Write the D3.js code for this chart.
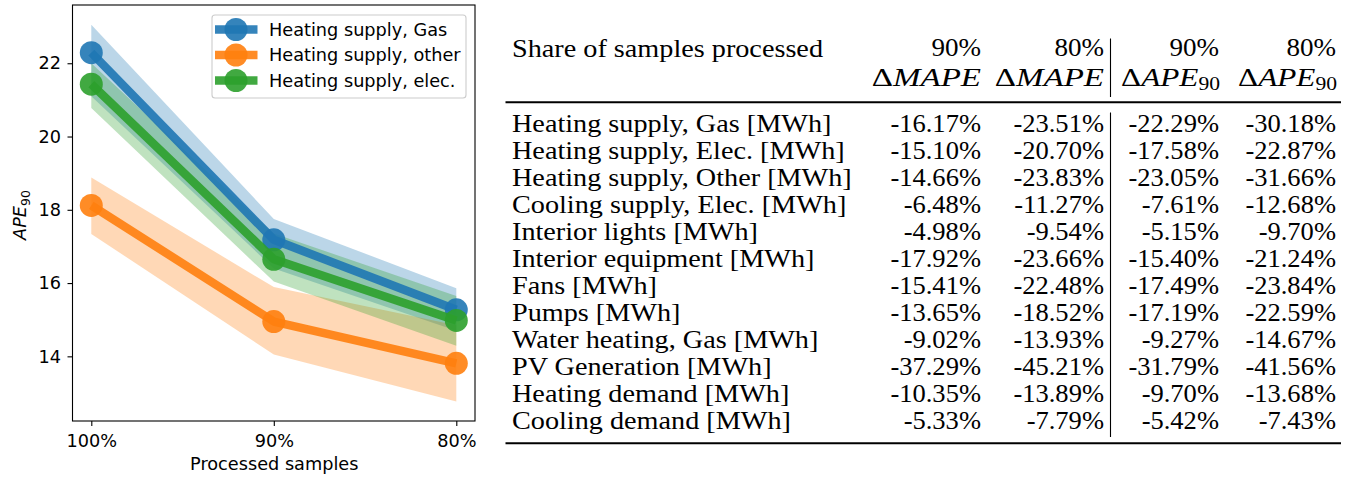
<!DOCTYPE html>
<html>
<head>
<meta charset="utf-8">
<script src="https://cdn.jsdelivr.net/npm/d3@7"></script>
<style>
  html, body { margin: 0; padding: 0; background: #fff; }
  svg { display: block; }
</style>
</head>
<body>
<svg id="chart" width="1358" height="479"></svg>
<script>
// ---------------- DATA ----------------
const categories = ["100%", "90%", "80%"];
const seriesNames = ["Heating supply, Gas", "Heating supply, other", "Heating supply, elec."];
const gasMean  = [22.29, 17.18, 15.27];
const gasLow   = [21.10, 16.40, 14.70];
const gasHigh  = [23.05, 17.75, 15.86];
const otherMean = [18.12, 14.95, 13.81];
const otherLow  = [17.34, 14.05, 12.77];
const otherHigh = [18.88, 15.89, 14.85];
const elecMean = [21.43, 16.65, 14.98];
const elecLow  = [20.78, 16.04, 14.29];
const elecHigh = [22.00, 17.35, 15.65];
const yTicks = [14, 16, 18, 20, 22];

const rowLabels = [
  "Heating supply, Gas [MWh]", "Heating supply, Elec. [MWh]", "Heating supply, Other [MWh]",
  "Cooling supply, Elec. [MWh]", "Interior lights [MWh]", "Interior equipment [MWh]",
  "Fans [MWh]", "Pumps [MWh]", "Water heating, Gas [MWh]", "PV Generation [MWh]",
  "Heating demand [MWh]", "Cooling demand [MWh]"
];
const mape90  = [-16.17, -15.10, -14.66, -6.48, -4.98, -17.92, -15.41, -13.65, -9.02, -37.29, -10.35, -5.33];
const mape80  = [-23.51, -20.70, -23.83, -11.27, -9.54, -23.66, -22.48, -18.52, -13.93, -45.21, -13.89, -7.79];
const ape90_90 = [-22.29, -17.58, -23.05, -7.61, -5.15, -15.40, -17.49, -17.19, -9.27, -31.79, -9.70, -5.42];
const ape90_80 = [-30.18, -22.87, -31.66, -12.68, -9.70, -21.24, -23.84, -22.59, -14.67, -41.56, -13.68, -7.43];
const headerTitle = "Share of samples processed";
const headerShares = ["90%", "80%", "90%", "80%"];
const headerMetrics = [["MAPE", ""], ["MAPE", ""], ["APE", "90"], ["APE", "90"]];

// ---------------- PLOT ----------------
const svg = d3.select("#chart");
const colors = ["#1f77b4", "#ff7f0e", "#2ca02c"];
const series = [
  {name: seriesNames[0], mean: gasMean, low: gasLow, high: gasHigh, color: colors[0]},
  {name: seriesNames[1], mean: otherMean, low: otherLow, high: otherHigh, color: colors[1]},
  {name: seriesNames[2], mean: elecMean, low: elecLow, high: elecHigh, color: colors[2]}
];

const plot = {left: 72.5, right: 475, top: 5, bottom: 421};
const x = d3.scalePoint().domain(categories).range([91.3, 456.3]);
const y = d3.scaleLinear().domain([12.235, 23.59]).range([plot.bottom, plot.top]);
const fs = 17.7;

const g = svg.append("g");
const area = d3.area().x((d, i) => x(categories[i])).y0(d => y(d[0])).y1(d => y(d[1]));
const line = d3.line().x((d, i) => x(categories[i])).y(d => y(d));

// bands first
series.forEach(s => {
  g.append("path")
    .datum(s.low.map((v, i) => [v, s.high[i]]))
    .attr("d", area)
    .attr("fill", s.color)
    .attr("fill-opacity", 0.3);
});
series.forEach(s => {
  const sg = g.append("g").attr("opacity", 0.9);
  sg.append("path").datum(s.mean).attr("d", line)
    .attr("fill", "none").attr("stroke", s.color).attr("stroke-width", 8.5)
    .attr("stroke-linejoin", "round");
  s.mean.forEach((v, i) => {
    g.append("circle").attr("cx", x(categories[i])).attr("cy", y(v)).attr("r", 11.5)
      .attr("fill", s.color).attr("fill-opacity", 0.9);
  });
});

// frame
g.append("rect").attr("x", plot.left).attr("y", plot.top)
  .attr("width", plot.right - plot.left).attr("height", plot.bottom - plot.top)
  .attr("fill", "none").attr("stroke", "#000").attr("stroke-width", 1.1);

const tickFont = "'DejaVu Sans', sans-serif";
const yAxis = g.append("g").attr("transform", `translate(${plot.left},0)`)
  .call(d3.axisLeft(y).tickValues(yTicks).tickSize(5).tickPadding(6.5).tickFormat(d3.format("d")));
const xAxis = g.append("g").attr("transform", `translate(0,${plot.bottom})`)
  .call(d3.axisBottom(x).tickSize(5).tickPadding(8.5));
[yAxis, xAxis].forEach(a => {
  a.attr("font-family", tickFont).attr("font-size", fs);
  a.select(".domain").remove();
  a.selectAll("line").attr("stroke", "#000").attr("stroke-width", 1.1);
  a.selectAll("text").attr("font-family", tickFont).attr("font-size", fs).attr("fill", "#000");
});

g.append("text").attr("x", (plot.left + plot.right) / 2 + 0.5).attr("y", 470)
  .attr("text-anchor", "middle").attr("font-family", tickFont).attr("font-size", fs)
  .text("Processed samples");

const yl = g.append("text").attr("transform", "translate(26,215) rotate(-90)")
  .attr("text-anchor", "middle").attr("font-family", tickFont).attr("font-size", fs);
yl.append("tspan").attr("font-style", "italic").text("APE");
yl.append("tspan").attr("font-size", 12.5).attr("dy", 4).text("90");

// legend
const leg = g.append("g");
leg.append("rect").attr("x", 212).attr("y", 15).attr("width", 254).attr("height", 83)
  .attr("rx", 3).attr("fill", "#fff").attr("fill-opacity", 0.8)
  .attr("stroke", "#cccccc").attr("stroke-width", 1.1);
const legY = d3.scalePoint().domain(seriesNames).range([29.5, 80.5]);
series.forEach(s => {
  const ly = legY(s.name);
  leg.append("line").attr("x1", 215).attr("x2", 257.5).attr("y1", ly).attr("y2", ly)
    .attr("stroke", s.color).attr("stroke-width", 8.5).attr("stroke-opacity", 0.9);
  leg.append("circle").attr("cx", 236).attr("cy", ly).attr("r", 11.5)
    .attr("fill", s.color).attr("fill-opacity", 0.9);
  leg.append("text").attr("x", 269).attr("y", ly + 6.4)
    .attr("font-family", tickFont).attr("font-size", fs).text(s.name);
});

// ---------------- TABLE ----------------
const tFont = "'Liberation Serif', 'Times New Roman', serif";
const tSize = 26;
const T = svg.append("g").attr("font-family", tFont).attr("font-size", tSize).attr("fill", "#000");
const colRight = d3.scaleOrdinal().domain([0, 1, 2, 3]).range([981, 1104, 1219, 1336]);
const rowY = d3.scaleLinear().domain([0, 1]).range([131.5, 131.5 + 27.06]);
const leftX = 512;
const sepX = 1110.5;

function stretch(sel, factor, rightEdge) {
  sel.each(function () {
    const w = this.getComputedTextLength();
    const tw = w * factor;
    this.setAttribute("textLength", tw);
    this.setAttribute("lengthAdjust", "spacingAndGlyphs");
    if (rightEdge !== undefined) this.setAttribute("x", rightEdge - tw);
  });
}

// header
stretch(T.append("text").attr("x", leftX).attr("y", 56.5).text(headerTitle), 1.085);
headerShares.forEach((h, i) => {
  stretch(T.append("text").attr("y", 56).text(h), 1.04, colRight(i));
});
headerMetrics.forEach((m, i) => {
  const t = T.append("text").attr("y", 86);
  t.append("tspan").text("Δ");
  t.append("tspan").attr("font-style", "italic").text(m[0]);
  if (m[1]) t.append("tspan").attr("font-size", 18).attr("dy", 4).text(m[1]);
  stretch(t, m[1] ? 1.2 : 1.27, colRight(i) + (m[1] ? 1 : 0));
});

// rules
T.append("line").attr("x1", 505.5).attr("x2", 1341).attr("y1", 102.3).attr("y2", 102.3)
  .attr("stroke", "#000").attr("stroke-width", 2);
T.append("line").attr("x1", 505.5).attr("x2", 1341).attr("y1", 443.3).attr("y2", 443.3)
  .attr("stroke", "#000").attr("stroke-width", 2);
T.append("line").attr("x1", sepX).attr("x2", sepX).attr("y1", 38.5).attr("y2", 97)
  .attr("stroke", "#000").attr("stroke-width", 1.1);
T.append("line").attr("x1", sepX).attr("x2", sepX).attr("y1", 112.5).attr("y2", 437)
  .attr("stroke", "#000").attr("stroke-width", 1.1);

// body
const fmt = v => v.toFixed(2) + "%";
const cols = [mape90, mape80, ape90_90, ape90_80];
rowLabels.forEach((lab, r) => {
  const yy = rowY(r);
  stretch(T.append("text").attr("x", leftX).attr("y", yy).text(lab), 1.085);
  cols.forEach((c, ci) => {
    stretch(T.append("text").attr("y", yy).text(fmt(c[r])), 1.02, colRight(ci));
  });
});
</script>
</body>
</html>
